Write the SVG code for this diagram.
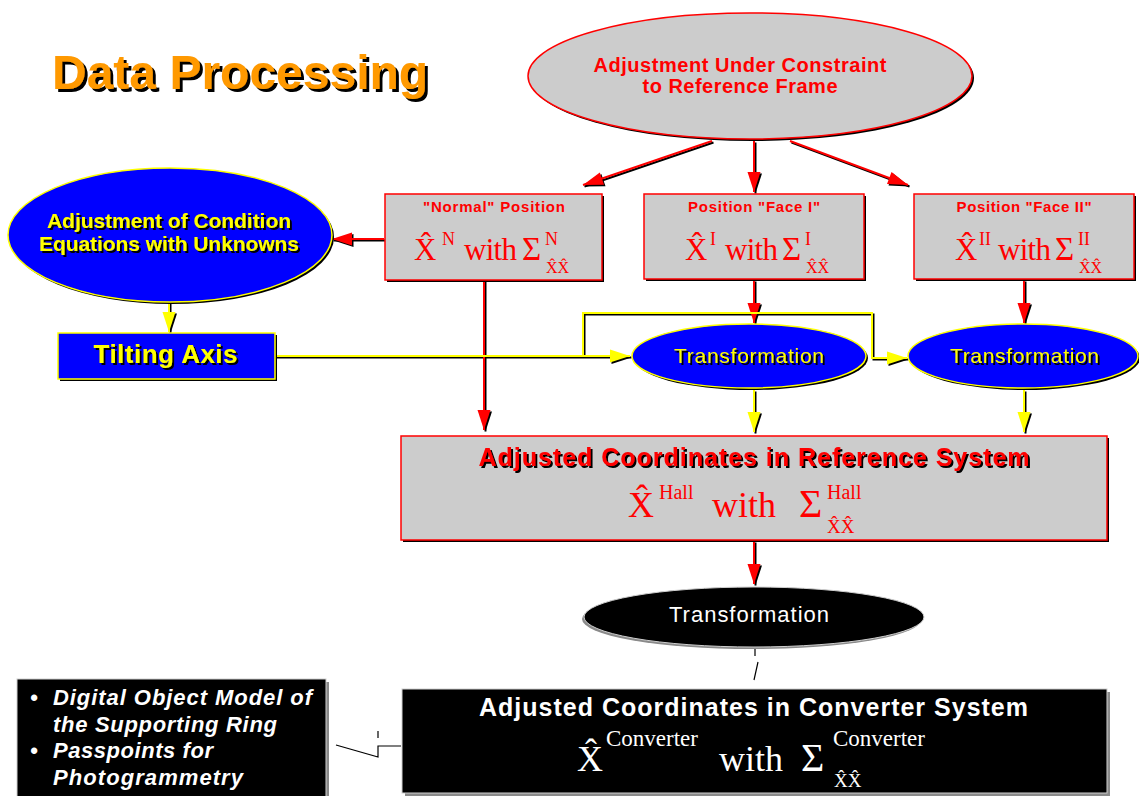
<svg xmlns="http://www.w3.org/2000/svg" width="1139" height="796" viewBox="0 0 1139 796">
<defs>
<style>
.sans{font-family:"Liberation Sans",Arial,sans-serif}
.b{font-weight:bold}
.i{font-style:italic}
.serif{font-family:"Liberation Serif","Times New Roman",serif}
.red{fill:#FF0000}
.yel{fill:#FFFF00}
.wht{fill:#FFFFFF}
.blk{fill:#000000}
.org{fill:#FF9900}
.gbox{fill:#CCCCCC;stroke:#FF0000;stroke-width:1.5}
.bshape{fill:#0000FF;stroke:#FFFF00;stroke-width:1.5}
.kshape{fill:#000000;stroke:#D0D0D0;stroke-width:1}
.sh{fill:#000000}
.gsh{fill:#8A8A8A}
.lr{fill:none;stroke:#FF0000;stroke-width:2}
.ly{fill:none;stroke:#FFFF00;stroke-width:2}
.lk{fill:none;stroke:#000000;stroke-width:2}
.lt{fill:none;stroke:#000000;stroke-width:1.2}
</style>
<filter id="ts3" x="-5%" y="-20%" width="115%" height="160%"><feOffset in="SourceAlpha" dx="3" dy="3" result="o"/><feMerge><feMergeNode in="o"/><feMergeNode in="SourceGraphic"/></feMerge></filter>
<filter id="ts2" x="-5%" y="-20%" width="115%" height="160%"><feOffset in="SourceAlpha" dx="2" dy="2" result="o"/><feMerge><feMergeNode in="o"/><feMergeNode in="SourceGraphic"/></feMerge></filter>
<filter id="ts15" x="-5%" y="-20%" width="115%" height="160%"><feOffset in="SourceAlpha" dx="1.5" dy="1.5" result="o"/><feMerge><feMergeNode in="o"/><feMergeNode in="SourceGraphic"/></feMerge></filter>
<marker id="ah-r" markerUnits="userSpaceOnUse" markerWidth="22" markerHeight="16" refX="20" refY="8" orient="auto" overflow="visible"><path d="M0,1.5 L20,8 L0,14.5 z" fill="#FF0000"/></marker>
<marker id="ah-y" markerUnits="userSpaceOnUse" markerWidth="22" markerHeight="16" refX="20" refY="8" orient="auto" overflow="visible"><path d="M0,1.5 L20,8 L0,14.5 z" fill="#FFFF00"/></marker>
<marker id="ah-k" markerUnits="userSpaceOnUse" markerWidth="22" markerHeight="16" refX="20" refY="8" orient="auto" overflow="visible"><path d="M0,1.5 L20,8 L0,14.5 z" fill="#000000"/></marker>
</defs>
<rect width="1139" height="796" fill="#FFFFFF"/>

<g id="title">
<text x="52" y="89" class="sans b org" font-size="48" filter="url(#ts3)">Data Processing</text>
</g>

<g id="connectors">
<g transform="translate(1.5,1.5)">
<path class="lk" marker-end="url(#ah-k)" d="M712,141 L583,185"/>
<path class="lk" marker-end="url(#ah-k)" d="M754,141 L754,192"/>
<path class="lk" marker-end="url(#ah-k)" d="M790,141 L908,185"/>
<path class="lk" marker-end="url(#ah-k)" d="M384,239 L332,239"/>
<path class="lk" marker-end="url(#ah-k)" d="M484,280 L484,430"/>
<path class="lk" marker-end="url(#ah-k)" d="M754,280 L754,323"/>
<path class="lk" marker-end="url(#ah-k)" d="M1024,280 L1024,323"/>
<path class="lk" marker-end="url(#ah-k)" d="M754,541 L754,584"/>
<path class="lk" marker-end="url(#ah-k)" d="M169,302 L169,332"/>
<path class="lk" marker-end="url(#ah-k)" d="M275,356 L630,356"/>
<path class="lk" marker-end="url(#ah-k)" d="M583,356 L583,313 L872,313 L872,358 L907,358"/>
<path class="lk" marker-end="url(#ah-k)" d="M754,390 L754,432"/>
<path class="lk" marker-end="url(#ah-k)" d="M1024,390 L1024,432"/>
</g>
<path class="lr" marker-end="url(#ah-r)" d="M712,141 L583,185"/>
<path class="lr" marker-end="url(#ah-r)" d="M754,141 L754,192"/>
<path class="lr" marker-end="url(#ah-r)" d="M790,141 L908,185"/>
<path class="lr" marker-end="url(#ah-r)" d="M384,239 L332,239"/>
<path class="lr" marker-end="url(#ah-r)" d="M484,280 L484,430"/>
<path class="lr" marker-end="url(#ah-r)" d="M754,280 L754,323"/>
<path class="lr" marker-end="url(#ah-r)" d="M1024,280 L1024,323"/>
<path class="lr" marker-end="url(#ah-r)" d="M754,541 L754,584"/>
<path class="ly" marker-end="url(#ah-y)" d="M169,302 L169,332"/>
<path class="ly" marker-end="url(#ah-y)" d="M275,356 L630,356"/>
<path class="ly" marker-end="url(#ah-y)" d="M583,356 L583,313 L872,313 L872,358 L907,358"/>
<path class="ly" marker-end="url(#ah-y)" d="M754,390 L754,432"/>
<path class="ly" marker-end="url(#ah-y)" d="M1024,390 L1024,432"/>
<path class="lt" d="M755,648 L755,656 M758,662 L754,680"/>
<path class="lt" d="M336,745 L378,757 L378,746 L401,746 M378,731 L378,738"/>
</g>

<g id="n-top">
<ellipse cx="752" cy="78" rx="222" ry="63" class="sh"/>
<ellipse cx="750" cy="76" rx="222" ry="63" class="gbox"/>
<text x="740" y="72" text-anchor="middle" class="sans b red" font-size="20" textLength="293">Adjustment Under Constraint</text>
<text x="740" y="93" text-anchor="middle" class="sans b red" font-size="20" textLength="195">to Reference Frame</text>
</g>

<g id="n-normal">
<rect x="387" y="196" width="217" height="86" class="sh"/>
<rect x="385" y="194" width="217" height="86" class="gbox"/>
<text x="494" y="212" text-anchor="middle" class="sans b red" font-size="15" textLength="142">"Normal" Position</text>
<g class="serif red">
<text x="414" y="260" font-size="31">X̂</text>
<text x="442" y="245" font-size="18">N</text>
<text x="464" y="260" font-size="31" textLength="53">with</text>
<text x="522" y="260" font-size="33">Σ</text>
<text x="545" y="245" font-size="18">N</text>
<text x="546" y="273" font-size="16">X̂X̂</text>
</g>
</g>

<g id="n-face1">
<rect x="646" y="196" width="220" height="85" class="sh"/>
<rect x="644" y="194" width="220" height="85" class="gbox"/>
<text x="754" y="212" text-anchor="middle" class="sans b red" font-size="15" textLength="132">Position "Face I"</text>
<g class="serif red">
<text x="685" y="260" font-size="31">X̂</text>
<text x="710" y="245" font-size="18">I</text>
<text x="725" y="260" font-size="31" textLength="53">with</text>
<text x="782" y="260" font-size="33">Σ</text>
<text x="805" y="245" font-size="18">I</text>
<text x="806" y="273" font-size="16">X̂X̂</text>
</g>
</g>

<g id="n-face2">
<rect x="916" y="196" width="220" height="85" class="sh"/>
<rect x="914" y="194" width="220" height="85" class="gbox"/>
<text x="1024" y="212" text-anchor="middle" class="sans b red" font-size="15" textLength="135">Position "Face II"</text>
<g class="serif red">
<text x="955" y="260" font-size="31">X̂</text>
<text x="979" y="245" font-size="18">II</text>
<text x="998" y="260" font-size="31" textLength="53">with</text>
<text x="1055" y="260" font-size="33">Σ</text>
<text x="1078" y="245" font-size="18">II</text>
<text x="1079" y="273" font-size="16">X̂X̂</text>
</g>
</g>

<g id="n-adjcond">
<ellipse cx="172" cy="237" rx="162" ry="67" class="sh"/>
<ellipse cx="170" cy="235" rx="162" ry="67" class="bshape"/>
<g class="sans b yel" font-size="21" text-anchor="middle" filter="url(#ts15)">
<text x="169" y="228" textLength="244">Adjustment of Condition</text>
<text x="169" y="251" textLength="260">Equations with Unknowns</text>
</g>
</g>

<g id="n-tilt">
<rect x="60" y="335" width="217" height="46" class="sh"/>
<rect x="58" y="333" width="217" height="46" class="bshape"/>
<text x="165.5" y="363" text-anchor="middle" class="sans b yel" font-size="26" textLength="144" filter="url(#ts2)">Tilting Axis</text>
</g>

<g id="n-trans1">
<ellipse cx="751" cy="358" rx="117" ry="32" class="sh"/>
<ellipse cx="749" cy="356" rx="117" ry="32" class="bshape"/>
<text x="749" y="363" text-anchor="middle" class="sans yel" font-size="21" textLength="150" filter="url(#ts15)">Transformation</text>
</g>

<g id="n-trans2">
<ellipse cx="1025" cy="358" rx="115" ry="32" class="sh"/>
<ellipse cx="1023" cy="356" rx="115" ry="32" class="bshape"/>
<text x="1024.5" y="363" text-anchor="middle" class="sans yel" font-size="21" textLength="149" filter="url(#ts15)">Transformation</text>
</g>

<g id="n-hall">
<rect x="403" y="438" width="706" height="104" class="sh"/>
<rect x="401" y="436" width="706" height="104" class="gbox"/>
<text x="754" y="466" text-anchor="middle" class="sans b red" font-size="25" textLength="551" filter="url(#ts2)">Adjusted Coordinates in Reference System</text>
<g class="serif red">
<text x="628" y="517" font-size="36">X̂</text>
<text x="659" y="499" font-size="20">Hall</text>
<text x="712" y="517" font-size="36">with</text>
<text x="799" y="517" font-size="40">Σ</text>
<text x="827" y="499" font-size="20">Hall</text>
<text x="827" y="533" font-size="19">X̂X̂</text>
</g>
</g>

<g id="n-trans3">
<ellipse cx="752" cy="619" rx="170" ry="30" class="gsh"/>
<ellipse cx="754" cy="617" rx="170" ry="30" class="kshape"/>
<text x="749" y="622" text-anchor="middle" class="sans wht" font-size="22" textLength="160">Transformation</text>
</g>

<g id="n-conv">
<rect x="405" y="692" width="705" height="104" class="gsh"/>
<rect x="402" y="689" width="705" height="104" class="kshape"/>
<text x="753.5" y="716" text-anchor="middle" class="sans b wht" font-size="25" textLength="549">Adjusted Coordinates in Converter System</text>
<g class="serif wht">
<text x="577" y="771" font-size="36">X̂</text>
<text x="606" y="746" font-size="23">Converter</text>
<text x="719" y="771" font-size="36">with</text>
<text x="801" y="771" font-size="40">Σ</text>
<text x="833" y="746" font-size="23">Converter</text>
<text x="834" y="787" font-size="19">X̂X̂</text>
</g>
</g>

<g id="n-bullets">
<rect x="20" y="682" width="309" height="120" class="gsh"/>
<rect x="17" y="679" width="309" height="120" class="kshape"/>
<g class="sans b i wht" font-size="22">
<text x="30" y="705">•</text>
<text x="53" y="705" textLength="259">Digital Object Model of</text>
<text x="53" y="732" textLength="224">the Supporting Ring</text>
<text x="30" y="758">•</text>
<text x="53" y="758" textLength="160">Passpoints for</text>
<text x="53" y="785" textLength="190">Photogrammetry</text>
</g>
</g>
</svg>
